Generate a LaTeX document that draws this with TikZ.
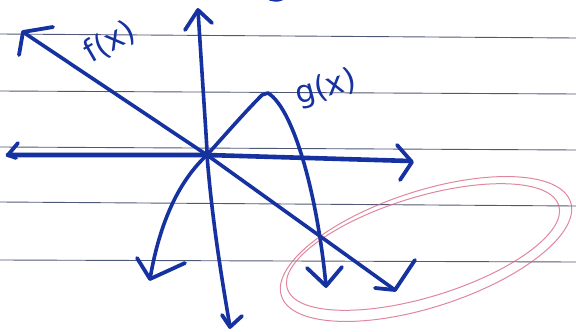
\documentclass[tikz,border=0pt]{standalone}
\usepackage{fontspec}
\setsansfont{DejaVu Sans}
\usepackage{xcolor}
\usepackage{tikz}

\definecolor{ink}{RGB}{22,50,160}
\definecolor{rule}{RGB}{80,88,120}
\definecolor{pencil}{RGB}{214,96,128}

\tikzset{
  pen/.style={draw=ink, line width=3.6pt, line cap=round, line join=round},
  axis/.style={pen, line width=4.6pt},
  tipmark/.style={pen, line width=3.8pt},
  ruled/.style={draw=rule, line width=0.9pt},
  loop/.style={draw=pencil, line width=1pt, opacity=0.75},
  handlabel/.style={text=ink, font=\sffamily\fontsize{31}{31}\selectfont, inner sep=0pt}
}

\begin{document}
\begin{tikzpicture}[x=1pt, y=-1pt]
    \useasboundingbox[fill=white] (0,0) rectangle (576,332);

    % ruled lines of the page
    \foreach \l/\r in {34/38, 91/94, 147/150, 202/206, 260/262}{
      \draw[ruled] (0,\l) -- (576,\r);
    }

    % pencil loops
    \draw[loop, rotate around={18:(426,249)}] (426,249) ellipse (152 and 58);
    \draw[loop, rotate around={17:(423,247)}] (423,247) ellipse (142 and 50);

    % points
    \coordinate (O) at (207,155);
    \coordinate (xl) at (8,155);
    \coordinate (xr) at (410,161);
    \coordinate (yt) at (198,10);
    \coordinate (yb) at (230,327);
    \coordinate (fl) at (23,32);
    \coordinate (fr) at (395,290);
    \coordinate (gl) at (150,279);
    \coordinate (gtop) at (262,95);
    \coordinate (gr) at (326,286);

    % x axis
    \draw[axis] (xl) -- (O) -- (xr);
    \draw[tipmark] (18,143) -- (xl) -- (16,158);
    \draw[tipmark] (397,145) -- (412,162) -- (400,180);

    % y axis
    \draw[pen] (yt) .. controls (203,90) and (208,160) .. (O)
                    .. controls (212,220) and (222,280) .. (yb);
    \draw[tipmark] (185,30) -- (yt) -- (212,23);
    \draw[tipmark] (222,315) -- (yb) -- (242,316);

    % f(x)
    \draw[pen] (fl) -- (O) -- (fr);
    \draw[tipmark] (53,27) -- (fl) -- (19,55);
    \draw[tipmark] (375,288) -- (fr) -- (415,260);
    \node[handlabel, rotate=30] (flab) at (110,42) {f(x)};

    % g(x)
    \draw[pen] (gl) .. controls (160,220) and (180,180) .. (O)
                    .. controls (225,135) and (245,112) .. (gtop)
                    -- (268,93)
                    .. controls (295,110) and (318,200) .. (gr);
    \draw[tipmark] (137,258) -- (gl) -- (185,263);
    \draw[tipmark] (307,268) -- (gr) -- (342,267);
    \node[handlabel, rotate=15] (glab) at (326,88) {g(x)};

    % stray stroke at the top
    \draw[pen, line width=2pt] (266,-3) .. controls (271,2) and (280,2) .. (286,-3);
\end{tikzpicture}
\end{document}
